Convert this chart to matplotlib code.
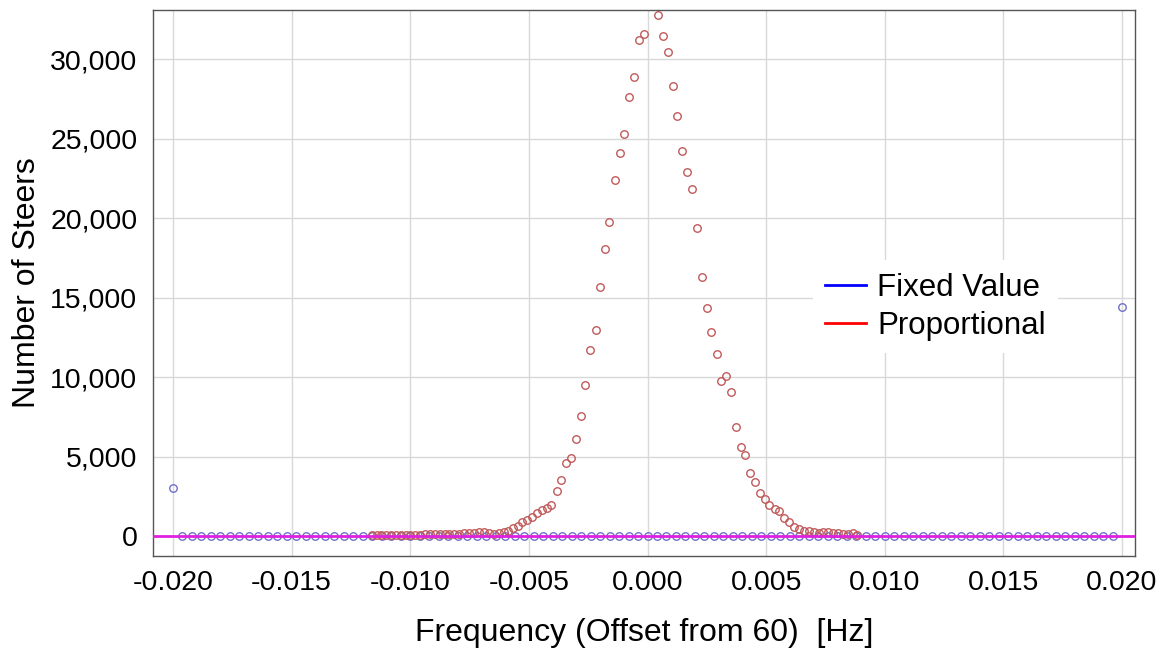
import matplotlib.pyplot as plt
from matplotlib.lines import Line2D
from matplotlib.ticker import FuncFormatter, MultipleLocator

plt.rcParams['font.family'] = ['Liberation Sans', 'DejaVu Sans']

# Fixed Value: bins every 0.0004 Hz from -0.020 to 0.020 (units of 1e-4 Hz)
fixed_offsets = [-200, -196, -192, -188, -184, -180, -176, -172, -168, -164,
                 -160, -156, -152, -148, -144, -140, -136, -132, -128, -124,
                 -120, -116, -112, -108, -104, -100, -96, -92, -88, -84,
                 -80, -76, -72, -68, -64, -60, -56, -52, -48, -44,
                 -40, -36, -32, -28, -24, -20, -16, -12, -8, -4,
                 0, 4, 8, 12, 16, 20, 24, 28, 32, 36,
                 40, 44, 48, 52, 56, 60, 64, 68, 72, 76,
                 80, 84, 88, 92, 96, 100, 104, 108, 112, 116,
                 120, 124, 128, 132, 136, 140, 144, 148, 152, 156,
                 160, 164, 168, 172, 176, 180, 184, 188, 192, 196, 200]
fixed_counts = [3050] + [0] * 99 + [14450]

# Proportional
prop_freq = [-0.01163, -0.01142, -0.01122, -0.01101, -0.01081, -0.01060, -0.01040,
             -0.01019, -0.00999, -0.00978, -0.00958, -0.00937, -0.00917, -0.00896,
             -0.00876, -0.00855, -0.00835, -0.00814, -0.00794, -0.00773, -0.00753,
             -0.00732, -0.00712, -0.00691, -0.00667, -0.00646, -0.00626, -0.00606,
             -0.00587, -0.00568, -0.00547, -0.00527, -0.00508, -0.00486, -0.00465,
             -0.00445, -0.00425, -0.00405, -0.00383, -0.00365, -0.00344, -0.00324,
             -0.00303, -0.00282, -0.00262, -0.00241, -0.00218, -0.00202, -0.00179,
             -0.00161, -0.00138, -0.00117, -0.00098, -0.00078, -0.00058, -0.00037,
             -0.00015, 0.00043, 0.00065, 0.00086, 0.00106, 0.00126, 0.00147,
             0.00167, 0.00189, 0.00207, 0.00230, 0.00251, 0.00269, 0.00292,
             0.00309, 0.00331, 0.00352, 0.00372, 0.00392, 0.00413, 0.00433,
             0.00454, 0.00473, 0.00494, 0.00514, 0.00536, 0.00556, 0.00577,
             0.00598, 0.00619, 0.00639, 0.00660, 0.00680, 0.00701, 0.00722,
             0.00741, 0.00762, 0.00783, 0.00803, 0.00823, 0.00843, 0.00864, 0.00881]
prop_counts = [60, 70, 60, 80, 70, 90, 80,
               100, 90, 110, 100, 120, 130, 120,
               140, 150, 140, 170, 160, 190, 200,
               230, 260, 290, 225, 165, 210, 270,
               350, 540, 670, 880, 1005, 1215, 1485,
               1655, 1800, 1950, 2830, 3520, 4590, 4925,
               6120, 7565, 9535, 11735, 12975, 15660, 18090,
               19790, 22390, 24125, 25320, 27610, 28870, 31230,
               31610, 32770, 31470, 30440, 28300, 26415, 24250,
               22910, 21860, 19370, 16330, 14360, 12870, 11450,
               9790, 10100, 9055, 6875, 5635, 5130, 3980,
               3415, 2700, 2365, 1990, 1735, 1610, 1150,
               880, 605, 460, 350, 315, 250, 210,
               250, 290, 225, 210, 165, 125, 210, 100]

fig = plt.figure(figsize=(11.63, 6.49), dpi=100)
ax = fig.add_axes([0.1318, 0.1438, 0.8442, 0.8408])

ax.plot([o * 1e-4 for o in fixed_offsets], fixed_counts, 'o', mfc='none',
        mec='#7070c8', mew=1.0, ms=5.4, zorder=2)
ax.plot(prop_freq, prop_counts, 'o', mfc='none', mec='#c05a5a', mew=1.0,
        ms=5.4, zorder=2)
ax.axhline(0, color='#e020e0', lw=2, zorder=3)

ax.set_xlim(-0.02083, 0.02055)
ax.set_ylim(-1220, 33100)
ax.xaxis.set_major_locator(MultipleLocator(0.005))
ax.yaxis.set_major_locator(MultipleLocator(5000))
ax.xaxis.set_major_formatter(FuncFormatter(lambda v, p: f'{v:.3f}'))
ax.yaxis.set_major_formatter(FuncFormatter(lambda v, p: f'{v:,.0f}'))
ax.tick_params(length=0, labelsize=20.5)
ax.tick_params(axis='x', pad=10)
ax.tick_params(axis='y', pad=11.5)
ax.grid(True, color='#d8d8d8', lw=1)
ax.set_axisbelow(True)
for s in ax.spines.values():
    s.set_color('#555555')
    s.set_linewidth(1)

ax.set_xlabel('Frequency (Offset from 60)  [Hz]', fontsize=23, labelpad=16)
ax.set_ylabel('Number of Steers', fontsize=23, labelpad=6)

handles = [Line2D([], [], color='#0000ff', lw=2),
           Line2D([], [], color='#ff0000', lw=2)]
leg = ax.legend(handles, ['Fixed Value', 'Proportional'], loc='center left',
                bbox_to_anchor=(0.656, 0.456), fontsize=22.5, frameon=True,
                fancybox=False, framealpha=1, edgecolor='none',
                handlelength=1.3, handletextpad=0.35, labelspacing=0.25)

fig.savefig('out.png', dpi=100)
